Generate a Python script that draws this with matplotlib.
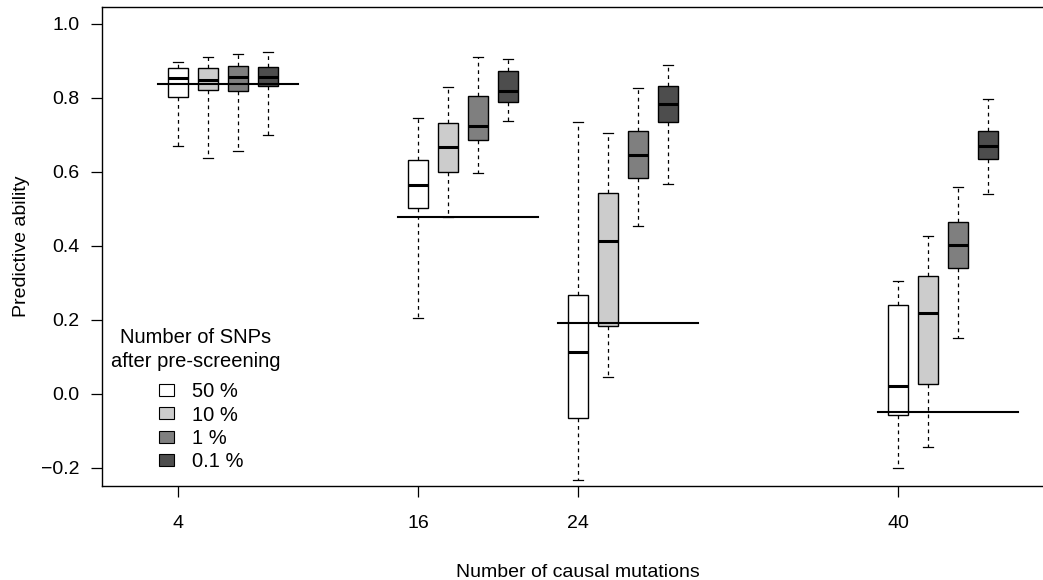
import matplotlib
matplotlib.use("Agg")
import matplotlib.pyplot as plt
from matplotlib.patches import Patch

plt.rcParams['font.family'] = ['Liberation Sans', 'DejaVu Sans']

# data
mutations = [4, 16, 24, 40]
levels = ['50 %', '10 %', '1 %', '0.1 %']
box_colors = ['#FFFFFF', '#CCCCCC', '#7F7F7F', '#4D4D4D']

whisker_low = [[0.670, 0.639, 0.657, 0.699],
               [0.206, 0.479, 0.598, 0.737],
               [-0.234, 0.045, 0.453, 0.568],
               [-0.201, -0.144, 0.152, 0.541]]
q1 = [[0.803, 0.822, 0.819, 0.831],
      [0.502, 0.599, 0.686, 0.789],
      [-0.066, 0.184, 0.583, 0.736],
      [-0.057, 0.026, 0.341, 0.636]]
median = [[0.853, 0.849, 0.858, 0.858],
          [0.565, 0.668, 0.723, 0.818],
          [0.112, 0.414, 0.647, 0.784],
          [0.022, 0.218, 0.403, 0.671]]
q3 = [[0.880, 0.880, 0.887, 0.884],
      [0.632, 0.733, 0.804, 0.872],
      [0.268, 0.544, 0.711, 0.832],
      [0.241, 0.318, 0.464, 0.711]]
whisker_high = [[0.898, 0.912, 0.918, 0.923],
                [0.747, 0.830, 0.912, 0.906],
                [0.734, 0.704, 0.828, 0.890],
                [0.305, 0.428, 0.560, 0.797]]
reference = [0.839, 0.477, 0.191, -0.050]

fig = plt.figure(figsize=(10.43, 5.8), dpi=100)
# plot region runs a little past the right edge of the picture, as in the reference
ax = fig.add_axes([0.0978, 0.162, 0.9128, 0.826])

offset = 1.5
for g, m in enumerate(mutations):
    for j in range(len(levels)):
        st = dict(med=median[g][j], q1=q1[g][j], q3=q3[g][j],
                  whislo=whisker_low[g][j], whishi=whisker_high[g][j], fliers=[])
        ax.bxp([st], positions=[m + offset * j], widths=1.0, patch_artist=True,
               showfliers=False,
               boxprops=dict(facecolor=box_colors[j], edgecolor='black', linewidth=1.0),
               medianprops=dict(color='black', linewidth=2.2, solid_capstyle='butt'),
               whiskerprops=dict(color='black', linewidth=0.9, linestyle=(0, (3, 3))),
               capprops=dict(color='black', linewidth=0.9),
               capwidths=0.5)
    ax.plot([m - 1, m + 6], [reference[g], reference[g]], color='black', lw=1.5, zorder=5)

ax.set_xlim(0.2, 47.8)
ax.set_ylim(-0.249, 1.046)
ax.set_xticks(mutations)
ax.set_xticklabels([str(m) for m in mutations])
ax.set_yticks([-0.2, 0.0, 0.2, 0.4, 0.6, 0.8, 1.0])
ax.set_yticklabels(['\u22120.2', '0.0', '0.2', '0.4', '0.6', '0.8', '1.0'])
ax.tick_params(axis='x', length=8, width=0.9, pad=13, labelsize=14)
ax.tick_params(axis='y', length=8, width=0.9, pad=8, labelsize=14)
for s in ax.spines.values():
    s.set_linewidth(1.0)

ax.set_xlabel('Number of causal mutations', fontsize=14, labelpad=23)
ax.set_ylabel('Predictive ability', fontsize=14, labelpad=8)

# legend: title as plain text, entries below
ax.text(0.0987, 0.285, 'Number of SNPs\nafter pre-screening', transform=ax.transAxes,
        ha='center', va='center', fontsize=14.5, linespacing=1.3, multialignment='center')
handles = [Patch(facecolor=c, edgecolor='black', linewidth=0.8) for c in box_colors]
leg = ax.legend(handles, levels, loc='upper left', bbox_to_anchor=(0.0599, 0.217),
                frameon=False, borderaxespad=0, borderpad=0,
                fontsize=14.5, handlelength=0.75, handleheight=0.55,
                handletextpad=0.9, labelspacing=0.22)

fig.savefig('out.png', dpi=100)
